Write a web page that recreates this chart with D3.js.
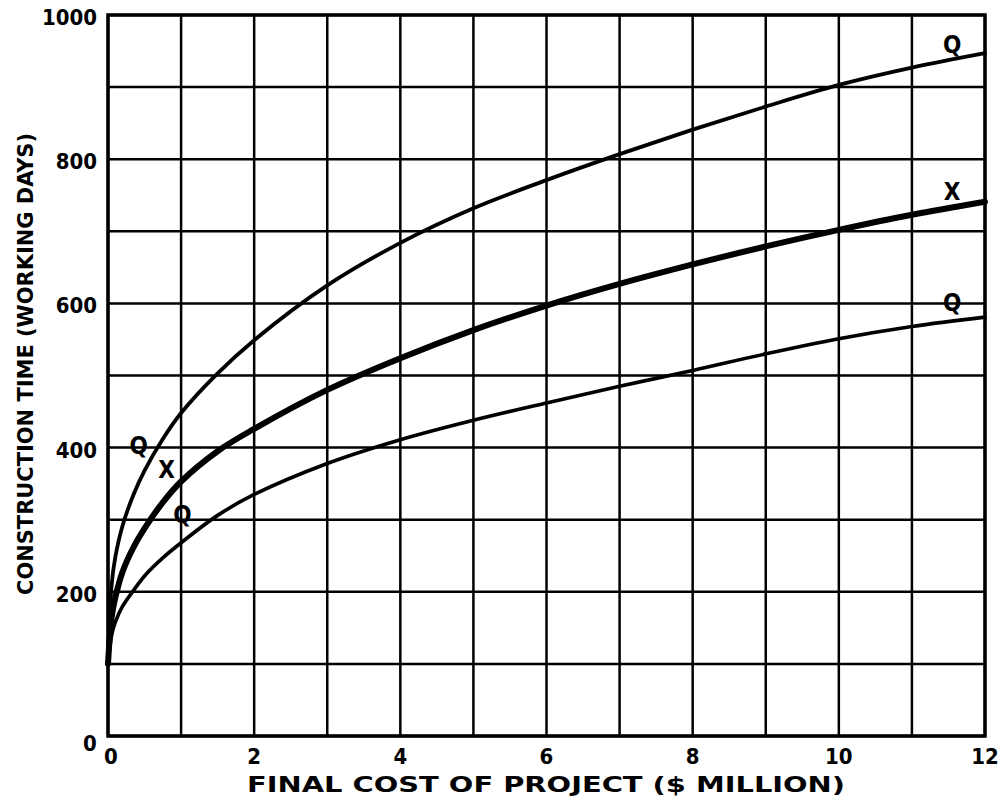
<!DOCTYPE html>
<html>
<head>
<meta charset="utf-8">
<script src="https://cdn.jsdelivr.net/npm/d3@7"></script>
<style>
  html, body { margin: 0; padding: 0; background: #fff; }
  svg { display: block; }
  text { font-family: "DejaVu Sans Condensed", "DejaVu Sans", sans-serif; font-weight: bold; fill: #000; }
</style>
</head>
<body>
<svg id="chart" width="1002" height="803"></svg>
<script>
// ---- data ----
const costs = [0, 0.05, 0.1, 0.2, 0.35, 0.5, 0.75, 1, 1.5, 2, 3, 4, 5, 6, 7, 8, 9, 10, 11, 12];
const upperQ = [100, 210, 248, 292, 335, 368, 412, 448, 503, 549, 625, 684, 732, 771, 807, 841, 873, 903, 927, 947];
const meanX  = [100, 165, 192, 228, 262, 288, 324, 353, 395, 426, 480, 524, 563, 597, 627, 654, 679, 702, 723, 741];
const lowerQ = [100, 140, 158, 180, 202, 222, 247, 268, 306, 335, 378, 411, 438, 462, 485, 507, 530, 551, 568, 581];
const xTicks = [0, 2, 4, 6, 8, 10, 12];
const yTicks = [200, 400, 600, 800, 1000];
const xGrid = d3.range(0, 13, 1);
const yGrid = d3.range(0, 1001, 100);
const xTitle = "FINAL COST OF PROJECT ($ MILLION)";
const yTitle = "CONSTRUCTION TIME (WORKING DAYS)";

// ---- layout ----
const svg = d3.select("#chart");
const x = d3.scaleLinear().domain([0, 12]).range([108, 985]);
const y = d3.scaleLinear().domain([0, 1000]).range([736, 15]);

// grid
svg.append("g").selectAll("line").data(xGrid).join("line")
  .attr("x1", d => x(d)).attr("x2", d => x(d))
  .attr("y1", y(0)).attr("y2", y(1000))
  .attr("stroke", "#000").attr("stroke-width", 2.5);
svg.append("g").selectAll("line").data(yGrid).join("line")
  .attr("x1", x(0)).attr("x2", x(12))
  .attr("y1", d => y(d)).attr("y2", d => y(d))
  .attr("stroke", "#000").attr("stroke-width", 2.5);

// frame
svg.append("rect")
  .attr("x", x(0)).attr("y", y(1000))
  .attr("width", x(12) - x(0)).attr("height", y(0) - y(1000))
  .attr("fill", "none").attr("stroke", "#000").attr("stroke-width", 3.5);

// curves
const line = d3.line().curve(d3.curveCatmullRom.alpha(0.5));
function drawCurve(vals, w) {
  svg.append("path")
    .attr("d", line(costs.map((c, i) => [x(c), y(vals[i])])))
    .attr("fill", "none").attr("stroke", "#000")
    .attr("stroke-width", w).attr("stroke-linecap", "round").attr("stroke-linejoin", "round");
}
drawCurve(upperQ, 3.8);
drawCurve(meanX, 6);
drawCurve(lowerQ, 3.6);

// tick labels
svg.append("g").selectAll("text").data(xTicks).join("text")
  .attr("x", d => x(d) + (d === 0 ? 3 : 0))
  .attr("y", y(0) + 28)
  .attr("text-anchor", "middle")
  .attr("font-size", 22)
  .text(d => d);
svg.append("g").selectAll("text").data(yTicks).join("text")
  .attr("x", 97)
  .attr("y", d => y(d) + 10)
  .attr("text-anchor", "end")
  .attr("font-size", 22)
  .text(d => d);
svg.append("text")
  .attr("x", 90).attr("y", y(0) + 15)
  .attr("text-anchor", "middle")
  .attr("font-size", 22)
  .text("0");

// axis titles
svg.append("text")
  .attr("x", 546).attr("y", 792)
  .attr("text-anchor", "middle")
  .attr("font-size", 21)
  .attr("textLength", 598).attr("lengthAdjust", "spacingAndGlyphs")
  .text(xTitle);
svg.append("text")
  .attr("transform", "translate(33,364) rotate(-90)")
  .attr("text-anchor", "middle")
  .attr("font-size", 21)
  .attr("textLength", 462).attr("lengthAdjust", "spacingAndGlyphs")
  .text(yTitle);

// curve labels
const curveLabels = [
  {t: "Q", cx: 0.42, cy: 402},
  {t: "X", cx: 0.8, cy: 369},
  {t: "Q", cx: 1.02, cy: 306},
  {t: "Q", cx: 11.55, cy: 958},
  {t: "X", cx: 11.55, cy: 755},
  {t: "Q", cx: 11.55, cy: 600}
];
svg.append("g").selectAll("text").data(curveLabels).join("text")
  .attr("x", d => x(d.cx)).attr("y", d => y(d.cy) + 8)
  .attr("text-anchor", "middle")
  .attr("font-size", 24)
  .attr("font-family", "DejaVu Sans")
  .text(d => d.t);
</script>
</body>
</html>
